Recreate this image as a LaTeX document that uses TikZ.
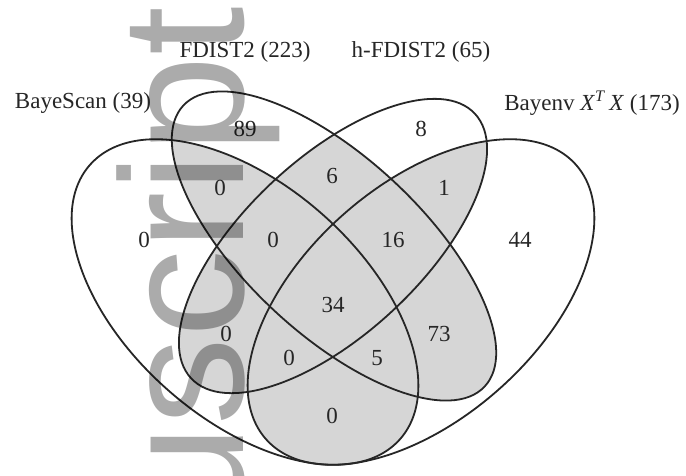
\documentclass[tikz,border=0pt]{standalone}
\usepackage{fontspec}
\setmainfont{Liberation Serif}
\newfontfamily\wmfont{Liberation Sans}
\newcommand\SetBS{(245,-302) circle [x radius=207pt, y radius=117pt, rotate=-41.5]}
\newcommand\SetFD{(334,-246) circle [x radius=206pt, y radius=88pt, rotate=-43]}
\newcommand\SetHF{(333,-246) circle [x radius=194pt, y radius=88pt, rotate=43]}
\newcommand\SetBE{(421,-302) circle [x radius=207pt, y radius=117pt, rotate=41.5]}
\begin{document}
\begin{tikzpicture}[x=1pt,y=1pt,
  setline/.style={line width=1.8pt, draw=black!85},
  shade/.style={fill=black!16},
  lbl/.style={font=\fontsize{23}{27}\selectfont, inner sep=0pt, text=black!85},
  num/.style={font=\fontsize{23}{27}\selectfont, inner sep=0pt, text=black!85}]
\useasboundingbox (0,0) rectangle (686,-475);
\fill[white] (0,0) rectangle (686,-475);
% regions in at least two sets
\begin{scope}\clip \SetBS; \fill[shade] \SetFD; \fill[shade] \SetHF; \fill[shade] \SetBE;\end{scope}
\begin{scope}\clip \SetFD; \fill[shade] \SetHF; \fill[shade] \SetBE;\end{scope}
\begin{scope}\clip \SetHF; \fill[shade] \SetBE;\end{scope}
% outlines
\draw[setline] \SetBS;
\draw[setline] \SetFD;
\draw[setline] \SetHF;
\draw[setline] \SetBE;
% set labels
\node[lbl] (lBS) at (83,-103) {BayeScan (39)};
\node[lbl] (lFD) at (245,-52) {FDIST2 (223)};
\node[lbl] (lHF) at (421,-52) {h-FDIST2 (65)};
\node[lbl] (lBE) at (592,-103) {Bayenv \textit{X}\textsuperscript{\textit{T}}\,\textit{X} (173)};
% counts
\node[num] (n1) at (245,-129) {89};
\node[num] (n2) at (421,-129) {8};
\node[num] (n3) at (220,-188) {0};
\node[num] (n4) at (332,-176) {6};
\node[num] (n5) at (444,-188) {1};
\node[num] (n6) at (144,-240) {0};
\node[num] (n7) at (273,-240) {0};
\node[num] (n8) at (393,-240) {16};
\node[num] (n9) at (520,-240) {44};
\node[num] (n10) at (333,-305) {34};
\node[num] (n11) at (226,-334) {0};
\node[num] (n12) at (439,-334) {73};
\node[num] (n13) at (289,-358) {0};
\node[num] (n14) at (377,-358) {5};
\node[num] (n15) at (332,-416) {0};
% watermark
\begin{scope}
\clip (0,0) rectangle (686,-475);
\node[rotate=90, anchor=base east, inner sep=0pt, text=black, text opacity=0.33,
      font=\wmfont\fontsize{175}{175}\selectfont] (wm) at (243,-7) {Manuscript};
\end{scope}
\end{tikzpicture}
\end{document}
